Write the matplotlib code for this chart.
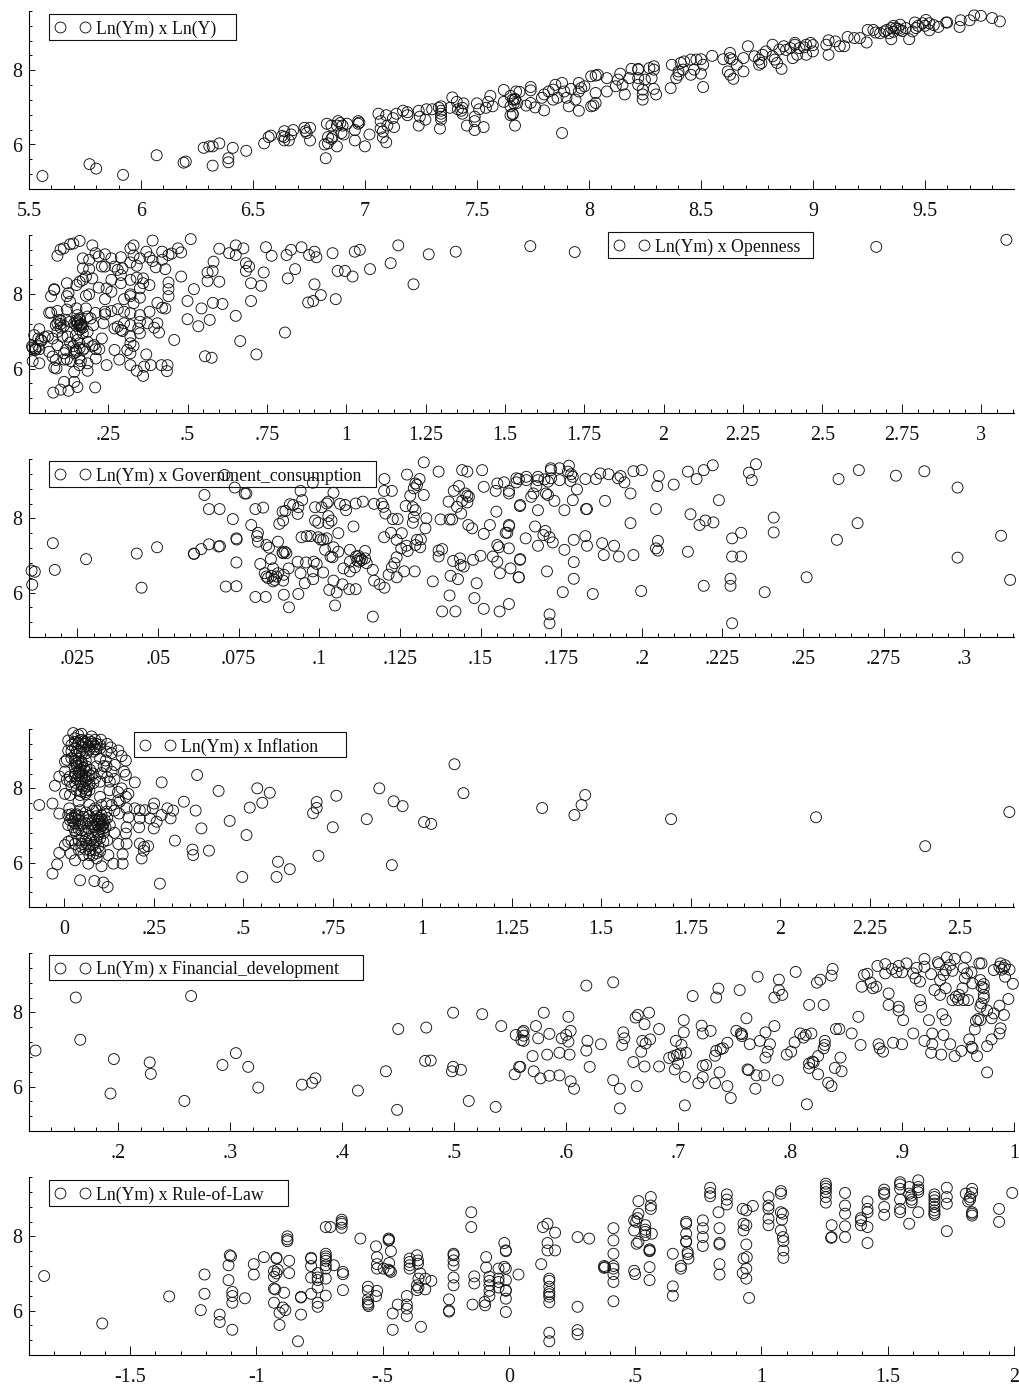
import matplotlib
matplotlib.use("Agg")
import matplotlib.pyplot as plt
from matplotlib.lines import Line2D
from matplotlib.patches import Rectangle
from matplotlib.ticker import MultipleLocator

plt.rcParams['font.family'] = ['Liberation Serif', 'DejaVu Serif']

W = 1019
H = 1385

# (x, Ln(Ym))
lny = [(5.56,5.15),(5.77,5.47),(5.80,5.35),(5.92,5.18),(6.07,5.71),(6.19,5.51),(6.20,5.54),(6.28,5.91),(6.305,5.95),(6.32,5.95),
 (6.35,6.03),(6.32,5.43),(6.39,5.63),(6.39,5.52),(6.41,5.91),(6.47,5.83),(6.55,6.03),(6.57,6.2),(6.58,6.24),(6.64,6.36),
 (6.63,6.23),(6.64,6.2),(6.64,6.11),(6.66,6.11),(6.67,6.27),(6.68,6.39),(6.73,6.45),(6.755,6.45),(6.735,6.36),(6.74,6.31),
 (6.755,6.11),(6.82,6.0),(6.835,6.03),(6.825,5.63),(6.83,6.56),(6.835,6.2),(6.85,6.15),(6.855,6.2),(6.85,6.51),(6.88,6.63),
 (6.875,6.51),(6.89,6.58),(6.9,6.51),(6.895,6.31),(6.905,6.27),(6.875,5.95),(6.92,6.56),(6.955,6.39),(6.955,6.11),(6.97,6.63),
 (6.975,6.59),(6.97,6.56),(7,5.95),(7.02,6.27),(7.06,6.83),(7.07,6.63),(7.095,6.79),(7.07,6.43),(7.08,6.35),(7.08,6.19),
 (7.095,6.06),(7.1,6.51),(7.13,6.47),(7.125,6.71),(7.14,6.83),(7.17,6.91),(7.19,6.87),(7.19,6.79),(7.24,6.91),(7.245,6.75),
 (7.24,6.51),(7.27,6.67),(7.275,6.95),(7.3,6.95),(7.33,6.99),(7.34,7.03),(7.34,6.91),(7.34,6.83),(7.34,6.75),(7.34,6.67),
 (7.335,6.43),(7.38,6.99),(7.39,7.27),(7.41,7.15),(7.415,6.95),(7.435,6.99),(7.44,7.11),(7.435,6.83),(7.43,6.91),(7.455,6.51),
 (7.49,6.75),(7.49,6.63),(7.49,6.39),(7.53,6.47),(7.5,7.11),(7.51,6.95),(7.54,6.99),(7.55,7.15),(7.56,7.31),(7.57,7.03),
 (7.62,7.47),(7.62,7.15),(7.65,7.31),(7.675,7.43),(7.67,7.23),(7.65,6.79),(7.66,6.83),(7.67,6.51),(7.665,7.11),(7.65,7.03),
 (7.67,7.21),(7.66,7.21),(7.68,7.12),(7.66,6.81),(7.69,7.42),(7.74,7.55),(7.74,7.46),(7.72,7.05),(7.74,7.12),(7.76,7.0),
 (7.8,6.92),(7.79,7.26),(7.8,7.35),(7.82,7.43),(7.84,7.48),(7.85,7.61),(7.88,7.66),(7.84,7.21),(7.86,7.26),(7.89,7.43),
 (7.9,7.26),(7.91,7.03),(7.92,7.5),(7.94,7.21),(7.955,7.66),(7.955,7.43),(7.965,7.52),(7.98,7.57),(7.955,6.91),(7.88,6.31),
 (8.01,7.03),(8.02,7.05),(8.03,7.12),(8.03,7.39),(8.01,7.84),(8.03,7.86),(8.04,7.88),(8.08,7.79),(8.08,7.43),(8.12,7.57),
 (8.14,7.91),(8.13,7.75),(8.15,7.61),(8.16,7.35),(8.18,7.79),(8.19,8.04),(8.22,8.02),(8.22,8.04),(8.22,7.79),(8.25,7.75),
 (8.22,7.61),(8.24,7.48),(8.24,7.35),(8.24,7.21),(8.27,8.06),(8.29,8.11),(8.29,8.02),(8.28,7.79),(8.29,7.5),(8.3,7.35),
 (8.365,7.52),(8.37,8.15),(8.39,7.79),(8.4,7.97),(8.4,7.88),(8.41,8.2),(8.425,8.24),(8.455,8.29),(8.48,8.29),(8.5,8.3),
 (8.51,7.55),(8.51,8.15),(8.5,7.91),(8.455,7.88),(8.42,8.02),(8.47,8.02),(8.55,8.39),(8.6,8.3),(8.63,8.47),(8.63,8.33),
 (8.64,8.29),(8.62,7.97),(8.63,7.88),(8.645,7.77),(8.66,8.15),(8.69,7.97),(8.69,8.33),(8.71,8.65),(8.74,8.38),(8.76,8.29),
 (8.77,8.2),(8.76,8.15),(8.775,8.42),(8.79,8.51),(8.82,8.69),(8.82,8.38),(8.83,8.29),(8.84,8.2),(8.86,8.04),(8.85,8.56),
 (8.87,8.65),(8.91,8.33),(8.92,8.69),(8.93,8.42),(8.97,8.42),(8.92,8.74),(8.97,8.69),(8.99,8.74),(9,8.51),(9.06,8.69),
 (9.07,8.81),(9.07,8.42),(9.1,8.78),(9.12,8.65),(9.14,8.65),(9.155,8.9),(9.185,8.87),(9.21,8.87),(9.245,9.09),(9.24,8.75),
 (9.27,9.09),(9.3,9.0),(9.33,9.09),(9.35,8.84),(9.35,9.14),(9.37,9.14),(9.39,9.09),(9.39,9.23),(9.415,9.14),(9.43,8.84),
 (9.445,9.05),(9.46,9.14),(9.455,9.29),(9.49,9.27),(9.505,9.36),(9.52,9.27),(9.52,9.08),(9.56,9.17),(9.595,9.29),(9.6,9.29),
 (9.655,9.17),(9.66,9.35),(9.7,9.35),(9.72,9.48),(9.75,9.47),(9.8,9.41),(9.835,9.32),(9.36,9.2),(9.38,9.12),(9.4,9.06),
 (9.32,9.05),(9.34,9.0),(9.28,9.02),(9.36,9.04),(8.9,8.6),(8.94,8.6),(8.88,8.55),(8.96,8.62),(9.0,8.68),(9.5,9.2),
 (9.54,9.22),(9.47,9.2)]

openness = [(.09,9.04),(.10,9.21),(.11,9.24),(.13,9.35),(.14,9.37),(.16,9.44),(.20,9.32),(.21,9.11),(.22,9.02),(.24,9.08),
 (.19,8.93),(.17,8.97),(.26,8.97),(.29,9.0),(.32,9.24),(.33,9.32),(.35,8.97),(.33,9.05),(.32,8.86),(.34,8.77),
 (.37,9.15),(.39,9.45),(.38,9.0),(.39,8.9),(.40,8.73),(.42,9.15),(.42,8.93),(.43,8.68),(.44,9.06),(.45,9.1),
 (.47,9.24),(.48,9.13),(.51,9.49),(.48,8.48),(.17,8.7),(.19,8.68),(.18,8.48),(.20,8.43),(.17,8.39),(.16,8.34),
 (.15,8.25),(.12,8.3),(.08,8.14),(.08,8.12),(.07,7.95),(.12,7.95),(.125,8.03),(.13,7.8),(.18,7.96),(.19,8.0),
 (.22,8.18),(.245,8.16),(.24,7.87),(.26,8.07),(.26,8.39),(.23,8.75),(.24,8.75),(.27,8.75),(.28,8.66),(.29,8.52),
 (.295,8.7),(.29,8.3),(.32,8.39),(.34,8.45),(.36,8.43),(.36,8.3),(.38,8.25),(.35,8.16),(.35,7.91),(.32,8.0),
 (.32,7.95),(.30,7.87),(.33,7.76),(.44,8.32),(.44,8.14),(.44,7.95),(.405,7.77),(.38,7.53),(.42,7.64),(.43,7.62),
 (.35,7.44),(.32,7.49),(.30,7.53),(.28,7.6),(.26,7.55),(.24,7.53),(.24,7.46),(.21,7.5),(.18,7.62),(.15,7.62),
 (.12,7.59),(.09,7.55),(.07,7.51),(.064,7.5),(.095,7.31),(.09,7.22),(.085,7.17),(.117,7.31),(.13,7.26),(.153,7.44),
 (.16,7.31),(.164,7.17),(.153,7.22),(.143,7.22),(.16,7.35),(.185,7.4),(.195,7.35),(.203,7.17),(.235,7.22),(.27,7.08),
 (.28,7.13),(.29,7.04),(.295,7.01),(.30,7.22),(.32,7.17),(.35,7.26),(.374,7.22),(.405,7.22),(.395,7.1),(.41,6.97),
 (.35,6.95),(.345,7.08),(.32,6.86),(.23,6.81),(.185,6.99),(.17,6.95),(.148,6.9),(.122,6.86),(.106,6.86),(.09,6.99),
 (.033,7.06),(.03,6.81),(.017,6.9),(.06,6.87),(.075,6.81),(.09,6.63),(.153,6.77),(.159,6.68),(.185,6.72),(.206,6.63),
 (.211,6.52),(.222,6.52),(.27,6.5),(.31,6.5),(.32,6.41),(.33,6.61),(.32,6.68),(.148,6.5),(.143,6.41),(.17,6.5),
 (.174,6.54),(.117,6.5),(.111,6.41),(.159,6.27),(.164,6.2),(.211,6.27),(.185,6.14),(.064,6.45),(.075,6.32),(.085,6.23),
 (.111,6.24),(.132,6.2),(.159,6.09),(.033,6.14),(.012,6.2),(.012,6.56),(.022,6.52),(.033,6.52),(.038,6.77),(.087,6.0),
 (.08,6.02),(.143,5.91),(.185,5.94),(.245,6.09),(.285,6.24),(.32,6.09),(.34,5.94),(.36,5.8),(.363,6.05),(.37,6.38),
 (.384,6.09),(.418,6.09),(.437,6.09),(.435,5.93),(.111,5.64),(.143,5.64),(.153,5.5),(.125,5.4),(.10,5.43),(.077,5.35),
 (.209,5.49),(.458,6.77),(.15,7.15),(.155,7.25),(.165,7.2),(.17,7.1),(.16,7.05),(.16,7.15),(.165,7.12),(.15,7.3),
 (.1,7.1),(.1,7.2),(.11,7.15),(.1,7.3),(.02,6.55),(.03,6.6),(.02,6.5),(.01,6.6),(.04,6.75),(.05,6.85),
 (.13,6.7),(.14,6.6),(.15,6.45),(.16,6.55),(.2,6.6),(.12,6.25),(.52,8.14),(.544,7.62),(.50,7.82),(.50,7.33),
 (.534,7.14),(.57,7.31),(.58,7.77),(.61,7.74),(.652,7.42),(.666,6.74),(.717,6.38),(.555,6.33),(.576,6.29),(.807,6.97),
 (.70,7.82),(.70,8.3),(.732,8.23),(.60,8.34),(.563,8.36),(.563,8.59),(.579,8.63),(.582,8.88),(.60,9.23),(.631,9.11),
 (.652,9.32),(.652,9.06),(.676,9.24),(.684,8.84),(.694,8.75),(.684,8.63),(.74,8.59),(.747,9.27),(.765,9.04),(.812,9.06),
 (.826,9.2),(.859,9.27),(.883,9.06),(.90,9.15),(.906,9.0),(.839,8.68),(.816,8.43),(.90,8.27),(.92,7.98),(.88,7.78),
 (.896,7.82),(.957,9.11),(.973,8.63),(.996,8.63),(1.02,8.48),(.967,7.87),(1.027,9.15),(1.043,9.2),(1.075,8.68),(1.14,8.84),
 (1.164,9.32),(1.212,8.27),(1.26,9.08),(1.345,9.15),(1.58,9.3),(1.72,9.14),(2.67,9.28),(3.08,9.47)]

government = [(.0108,6.59),(.0118,6.56),(.011,6.21),(.0174,7.33),(.018,6.61),(.0277,6.9),(.0434,7.05),(.0449,6.13),(.0497,7.22),(.0611,7.05),
 (.0612,7.04),(.0634,7.17),(.0658,7.3),(.0688,7.24),(.0692,7.25),(.0644,8.63),(.0658,8.25),(.0691,8.25),(.0706,9.17),(.071,6.16),
 (.0732,7.98),(.0738,8.83),(.0743,7.46),(.0744,7.43),(.0743,6.81),(.0743,6.17),(.0769,8.67),(.0774,8.67),(.0789,7.82),(.0802,5.88),
 (.0802,8.25),(.081,7.61),(.0807,7.52),(.081,7.37),(.0826,8.29),(.0836,7.28),(.0844,7.21),(.0817,6.77),(.0834,5.88),(.0831,6.52),
 (.0836,6.43),(.0841,6.39),(.0852,6.45),(.0857,6.3),(.0867,6.43),(.0862,6.34),(.0872,6.52),(.0857,6.65),(.085,6.9),(.0872,7.37),
 (.0876,7.85),(.0888,7.94),(.0886,8.18),(.0895,8.2),(.0888,7.06),(.0893,7.1),(.0898,7.06),(.0886,7.08),(.089,6.48),(.0888,6.32),
 (.089,5.94),(.0906,5.6),(.0905,6.65),(.0909,8.38),(.0919,8.36),(.0935,8.3),(.0933,8.12),(.0933,6.83),(.0935,5.96),(.0942,8.74),
 (.0947,8.49),(.0945,7.49),(.0961,7.52),(.0973,7.52),(.0942,6.52),(.0955,6.25),(.0959,6.81),(.0983,6.83),(.0992,6.77),(.098,6.57),
 (.0981,6.36),(.098,8.96),(.0987,8.3),(.0987,7.94),(.0997,7.88),(.1007,8.3),(.0997,7.49),(.1004,7.43),(.1012,7.42),(.1023,7.46),
 (.1018,7.15),(.1012,6.54),(.1031,6.07),(.1023,8.4),(.1028,8.45),(.1028,7.87),(.1028,8.06),(.1038,7.94),(.1044,8.69),(.1044,7.22),
 (.1035,6.97),(.1041,6.95),(.1059,7.6),(.1059,7.1),(.1044,6.32),(.1049,5.65),(.1054,6.0),(.1064,8.39),(.108,8.36),(.1083,8.22),
 (.1072,6.22),(.1075,6.65),(.1095,7.15),(.1095,6.57),(.1095,6.83),(.1093,6.09),(.1113,6.09),(.1106,7.78),(.1113,8.4),(.1135,8.45),
 (.1114,6.97),(.1121,6.99),(.1127,6.92),(.1118,6.86),(.1132,6.88),(.1124,6.83),(.1142,6.92),(.1142,7.12),(.1147,6.79),(.1111,6.68),
 (.1166,5.35),(.1166,6.61),(.117,6.32),(.117,8.39),(.1187,6.22),(.1202,6.13),(.1194,8.4),(.1199,8.31),(.1202,9.06),(.1201,8.74),
 (.1225,8.74),(.1205,8.13),(.1201,7.49),(.1222,7.61),(.1228,7.98),(.1243,7.98),(.1215,6.48),(.1225,6.68),(.1233,6.79),(.124,6.95),
 (.124,7.42),(.124,6.41),(.1256,7.6),(.1254,7.19),(.127,7.26),(.1274,7.12),(.1263,6.57),(.1272,9.18),(.1282,8.61),(.1268,8.33),
 (.1293,8.81),(.1303,8.9),(.1298,8.94),(.1311,9.06),(.129,8.3),(.1298,8.22),(.1293,8.04),(.129,7.88),(.1296,6.57),(.1298,7.28),
 (.1313,7.22),(.1303,7.42),(.1315,7.43),(.1324,9.51),(.1324,8.63),(.1332,8.0),(.1329,7.73),(.1352,6.3),(.137,9.26),(.1376,7.97),
 (.137,6.97),(.137,7.13),(.1381,7.17),(.1381,5.49),(.1401,8.45),(.1404,7.97),(.1412,7.97),(.1404,5.92),(.1407,6.45),(.1415,6.85),
 (.1422,5.49),(.143,6.36),(.1417,8.74),(.1433,8.87),(.1443,9.3),(.1459,9.26),(.1427,8.31),(.144,8.13),(.1443,8.47),(.1453,8.67),
 (.1459,8.61),(.1464,8.58),(.1459,8.43),(.1436,6.92),(.1438,6.74),(.1448,6.7),(.1462,7.82),(.1474,7.73),(.1477,6.88),(.1488,6.25),
 (.1481,5.85),(.15,6.99),(.1505,9.3),(.151,8.85),(.151,7.58),(.151,5.56),(.1529,7.82),(.1538,6.97),(.1549,8.18),(.1547,8.74),
 (.1552,8.94),(.1573,8.97),(.1552,6.83),(.1552,7.28),(.1557,7.22),(.156,6.52),(.1559,5.49),(.1588,8.74),(.1588,8.67),(.1588,7.19),
 (.1593,6.65),(.1588,5.69),(.1578,7.61),(.1588,7.82),(.1583,7.61),(.1589,7.79),(.1619,9.06),(.1622,8.33),(.1622,6.88),(.1619,6.41),
 (.1611,9.08),(.1611,8.97),(.1642,9.12),(.1642,9.03),(.1678,9.12),(.1678,9.03),(.1698,9.05),(.1718,9.3),(.1718,9.35),(.1709,8.99),
 (.1719,9.08),(.1745,9.35),(.1745,9.03),(.1774,9.42),(.1771,9.26),(.1781,9.19),(.1786,9.12),(.1779,9.01),(.1673,8.87),(.1623,8.36),
 (.1657,8.58),(.1664,8.67),(.1678,8.22),(.1703,8.67),(.1709,8.63),(.1729,8.47),(.176,8.22),(.1786,8.49),(.1799,8.78),(.1825,9.06),
 (.1827,8.25),(.183,8.25),(.1858,9.06),(.1871,9.21),(.1897,9.19),(.1886,8.47),(.1926,9.08),(.1934,9.14),(.1946,8.97),(.1965,8.67),
 (.1974,9.27),(.2,9.3),(.2053,9.14),(.2048,8.87),(.2099,8.91),(.2044,8.25),(.2143,9.26),(.2192,9.3),(.217,9.06),(.222,9.43),
 (.2239,8.49),(.2151,8.11),(.2179,7.82),(.2197,7.94),(.2222,7.89),(.2332,9.23),(.2341,9.03),(.2354,9.46),(.2409,8.02),(.2409,7.62),
 (.261,9.06),(.2673,9.3),(.2788,9.15),(.2876,9.27),(.2979,8.83),(.2669,7.87),(.2605,7.42),(.3114,7.53),(.2979,6.94),(.3142,6.34),
 (.2511,6.41),(.2381,6.01),(.228,7.46),(.2308,7.61),(.228,6.97),(.2308,6.97),(.2275,6.37),(.2275,6.18),(.228,5.17),(.2192,6.18),
 (.2143,7.1),(.205,7.39),(.2044,7.19),(.205,7.13),(.1974,7.01),(.1998,6.04),(.1965,7.87),(.1825,7.52),(.183,7.26),(.1877,7.33),
 (.1882,7.01),(.1914,7.26),(.1929,6.97),(.1789,7.42),(.176,7.15),(.1789,6.82),(.1789,6.37),(.1755,6.01),(.1848,5.96),(.1724,7.35),
 (.1714,7.49),(.1701,7.66),(.1695,7.55),(.1669,7.78),(.1678,7.26),(.164,7.46),(.1706,6.57),(.1623,6.9),(.1618,6.41),(.1714,5.41),
 (.1714,5.17)]

inflation = [(-.07,7.55),(-.033,7.59),(-.026,8.07),(-.014,8.32),(-.014,7.32),(.002,8.45),(.002,8.72),(.011,9.02),(.011,9.29),(.025,9.49),
 (.039,9.44),(.048,9.47),(.03,9.35),(.02,9.17),(.039,9.22),(.053,9.26),(.067,9.31),(.076,9.4),(.086,9.31),(.102,9.31),
 (.10,9.17),(.086,9.13),(.067,9.13),(.048,9.13),(.03,9.08),(.044,8.99),(.062,8.95),(.081,8.99),(.10,9.08),(.118,8.99),
 (.132,8.95),(.151,9.02),(.16,8.87),(.172,8.75),(.116,8.75),(.141,8.63),(.118,8.59),(.167,8.45),(.172,8.36),(.197,8.16),
 (.132,8.45),(.127,8.18),(.126,7.95),(.16,8.0),(.179,7.85),(.172,7.77),(.155,7.64),(.151,7.68),(.007,8.77),(.02,8.81),
 (.034,8.68),(.048,8.72),(.03,8.54),(.044,8.5),(.062,8.59),(.016,8.32),(.03,8.32),(.048,8.32),(.067,8.27),(.086,8.27),
 (.10,8.18),(.081,8.14),(.007,8.23),(.016,8.18),(.002,7.85),(.016,7.82),(.034,7.95),(.048,7.91),(.062,7.95),(.044,7.82),
 (.10,7.77),(.072,8.5),(.09,8.59),(.104,8.41),(.014,7.46),(.011,7.28),(.016,7.14),(.011,7.01),(.03,7.28),(.044,7.41),
 (.053,7.23),(.03,7.05),(.044,7.01),(.067,7.14),(.086,7.46),(.104,7.55),(.118,7.59),(.132,7.55),(.118,7.37),(.104,7.28),
 (.086,7.14),(.10,7.1),(.113,7.14),(.127,7.01),(.109,6.92),(.095,6.83),(.081,6.96),(.067,6.92),(.048,6.87),(.034,6.78),
 (.02,6.6),(.011,6.56),(.002,6.47),(.018,6.24),(.03,6.06),(.048,6.42),(.062,6.51),(.081,6.47),(.10,6.65),(.109,6.56),
 (.095,6.42),(.086,6.33),(.072,6.33),(.053,6.2),(.067,5.97),(.044,5.52),(.084,5.5),(.109,5.46),(.121,5.34),(-.014,6.26),
 (-.02,5.95),(-.033,5.7),(.104,5.9),(.09,6.11),(.123,6.2),(.137,5.97),(.163,5.97),(.163,6.22),(.151,6.5),(.174,6.51),
 (.172,6.78),(.174,6.95),(.179,7.22),(.174,7.46),(.153,7.32),(.14,6.8),(.197,7.46),(.211,7.41),(.225,7.41),(.211,7.19),
 (.209,6.95),(.239,7.19),(.251,7.59),(.247,7.46),(.258,7.1),(.25,6.92),(.272,7.28),(.288,7.46),(.304,7.4),(.297,7.19),
 (.334,7.64),(.367,7.4),(.383,6.92),(.462,7.12),(.518,7.48),(.553,7.61),(.574,7.88),(.539,8.0),(.431,7.93),(.371,8.36),
 (.272,8.16),(.509,6.74),(.309,6.59),(.358,6.35),(.36,6.2),(.404,6.32),(.211,6.51),(.223,6.42),(.234,6.44),(.222,6.32),
 (.216,6.11),(.267,5.43),(.497,5.61),(.593,5.61),(.597,6.02),(.63,5.82),(.695,7.33),(.705,7.63),(.705,7.47),(.76,7.8),
 (.75,6.95),(.71,6.18),(.845,7.17),(.88,8.0),(.92,7.65),(.945,7.52),(.915,5.93),(1.005,7.09),(1.025,7.04),(1.09,8.65),
 (1.115,7.87),(1.335,7.47),(1.425,7.28),(1.445,7.55),(1.455,7.82),(1.695,7.17),(2.1,7.22),(2.405,6.44),(2.64,7.36),(.02,9.0),
 (.05,9.3),(.06,9.2),(.08,9.2),(.09,9.05),(.03,8.9),(.04,8.8),(.05,8.65),(.06,8.75),(.04,8.45),(.05,8.4),
 (.06,8.2),(.07,8.1),(.03,8.15),(.02,8.05),(.05,8.05),(.06,7.85),(.04,7.65),(.07,7.55),(.03,7.2),(.04,7.15),
 (.02,7.3),(.09,7.25),(.1,7.2),(.11,7.05),(.095,7.0),(.105,6.98),(.12,7.2),(.07,7.25),(.06,6.85),(.05,6.7),
 (.04,6.6),(.07,6.65),(.03,6.5),(.06,6.35),(.08,6.2),(.1,6.3),(.11,6.8),(.08,6.75),(.09,6.6),(.12,6.6),
 (.14,7.4),(.15,7.9),(.14,8.25),(.12,8.3),(.11,8.6),(.1,8.8),(.13,9.1),(.12,9.2),(.03,9.25),(.045,9.3),
 (.06,9.25),(.075,9.25),(.09,9.2),(.055,9.1),(.07,9.05),(.035,9.0),(.05,8.95),(.085,9.05),(.03,8.75),(.04,8.7),
 (.045,8.6),(.055,8.55),(.035,8.6),(.06,8.45),(.03,8.4),(.04,8.35),(.05,8.25),(.06,8.3),(.07,8.35),(.045,8.15),
 (.055,8.0),(.06,7.9),(.07,7.95),(.065,8.05),(.035,8.25),(.08,8.4),(.02,7.2),(.025,7.1),(.035,7.3),(.04,7.25),
 (.025,6.95),(.04,6.9),(.03,6.85),(.05,7.05),(.095,7.15),(.1,7.05),(.105,7.15),(.09,7.05),(.085,6.95),(.1,6.9),
 (.105,7.0),(.115,6.95),(.095,6.75),(.075,6.6),(.06,6.6),(.07,6.45),(.085,6.55),(.05,6.5),(.04,6.35),(.09,6.25),
 (.07,6.2),(.08,7.4),(.06,7.35),(.09,7.4),(.075,7.05),(.06,7.05)]

financial = [(.126,6.97),(.162,8.4),(.166,7.26),(.196,6.74),(.193,5.81),(.228,6.65),(.229,6.34),(.265,8.44),(.259,5.61),(.293,6.58),
 (.305,6.9),(.316,6.53),(.325,5.97),(.364,6.05),(.373,6.1),(.376,6.22),(.414,5.89),(.439,6.41),(.45,7.55),(.449,5.37),
 (.475,7.59),(.474,6.69),(.479,6.7),(.499,7.99),(.499,6.53),(.498,6.41),(.506,6.45),(.513,5.61),(.525,7.95),(.537,5.45),
 (.542,7.63),(.555,7.39),(.554,6.33),(.559,6.53),(.56,7.25),(.561,7.46),(.562,7.5),(.562,7.37),(.562,7.23),(.558,6.53),
 (.57,6.82),(.571,6.41),(.573,7.63),(.575,7.3),(.577,6.22),(.58,7.99),(.583,6.86),(.585,6.29),(.585,7.42),(.594,6.91),
 (.594,6.3),(.596,7.3),(.6,7.39),(.602,7.88),(.602,7.21),(.604,7.5),(.603,6.86),(.604,6.14),(.607,5.94),(.618,8.72),
 (.619,7.23),(.618,6.97),(.621,6.53),(.631,7.14),(.642,8.81),(.642,6.17),(.648,5.94),(.648,5.41),(.651,7.46),(.652,7.3),
 (.65,7.12),(.66,6.66),(.662,7.86),(.664,7.93),(.663,6.01),(.67,7.68),(.674,7.99),(.668,7.23),(.671,7.16),(.675,7.27),
 (.667,6.94),(.67,6.54),(.683,7.55),(.683,6.54),(.698,7.23),(.703,7.12),(.692,6.77),(.696,6.82),(.699,6.85),(.702,6.89),
 (.707,6.91),(.7,6.62),(.697,6.46),(.706,6.26),(.706,5.49),(.705,7.79),(.705,7.46),(.713,8.44),(.721,7.64),(.722,7.43),
 (.729,7.5),(.722,6.56),(.725,6.58),(.722,6.25),(.718,6.09),(.733,6.83),(.734,6.96),(.738,7.01),(.74,7.03),(.744,7.18),
 (.737,6.38),(.733,6.09),(.744,6.01),(.747,5.69),(.736,8.64),(.734,8.4),(.755,8.6),(.752,7.5),(.756,7.43),(.757,7.41),
 (.757,7.36),(.761,7.84),(.764,7.14),(.762,6.46),(.763,6.44),(.77,6.3),(.769,5.94),(.771,8.96),(.773,7.23),(.778,7.46),
 (.777,6.3),(.778,6.78),(.78,6.94),(.782,7.14),(.786,7.63),(.789,6.17),(.79,8.88),(.79,8.6),(.786,8.4),(.793,8.47),
 (.797,6.86),(.801,6.94),(.805,9.09),(.804,7.19),(.809,7.43),(.812,7.32),(.814,7.39),(.817,8.2),(.819,7.43),(.815,5.52),
 (.824,8.8),(.827,8.88),(.817,6.62),(.817,6.5),(.82,6.67),(.821,6.65),(.825,6.82),(.825,6.33),(.83,8.2),(.83,7.03),
 (.831,7.23),(.831,7.12),(.834,6.1),(.837,6.01),(.837,8.99),(.838,9.17),(.84,6.5),(.841,7.55),(.844,7.55),(.845,6.78),
 (.846,6.41),(.855,7.43),(.861,7.88),(.863,7.12),(.864,8.69),(.866,9.01),(.869,9.04),(.872,8.8),(.874,8.65),(.877,8.69),
 (.879,7.14),(.88,7.03),(.883,6.94),(.878,9.25),(.885,9.3),(.885,9.05),(.888,8.51),(.888,8.2),(.892,7.18),(.891,9.17),
 (.895,9.08),(.897,9.25),(.897,8.15),(.897,8.05),(.901,7.79),(.9,9.08),(.9,7.14),(.904,9.32),(.91,9.05),(.91,7.43),
 (.913,9.2),(.912,8.92),(.916,8.83),(.916,8.33),(.917,8.15),(.92,9.44),(.92,9.23),(.92,7.23),(.924,7.79),(.926,6.91),
 (.927,7.43),(.927,7.14),(.926,9.03),(.929,8.6),(.932,9.35),(.933,9.3),(.934,8.87),(.935,6.86),(.937,7.39),(.936,7.95),
 (.939,7.79),(.934,8.47),(.939,8.65),(.937,9.01),(.939,9.14),(.94,9.48),(.943,9.28),(.945,9.12),(.947,9.44),(.943,7.14),
 (.947,6.82),(.945,8.33),(.948,8.42),(.95,8.33),(.951,8.47),(.954,8.65),(.955,8.33),(.959,8.33),(.953,6.96),(.956,8.92),
 (.957,9.48),(.955,9.19),(.958,9.05),(.962,9.08),(.963,8.78),(.96,7.27),(.962,7.07),(.963,7.03),(.967,6.82),(.965,7.54),
 (.966,7.77),(.968,7.82),(.97,7.79),(.969,9.32),(.971,9.32),(.97,8.87),(.971,8.69),(.973,8.76),(.973,8.65),(.97,8.15),
 (.971,8.24),(.973,8.38),(.973,8.47),(.976,7.09),(.976,6.38),(.976,8.05),(.98,7.27),(.98,7.84),(.982,7.97),(.987,8.18),
 (.987,7.43),(.988,7.57),(.991,7.93),(.995,8.36),(.999,8.77),(.982,9.14),(.987,9.23),(.988,9.32),(.991,9.2),(.989,9.15),
 (.992,9.27),(.996,9.15),(.992,8.96)]

rule_of_law = [(-1.84,6.93),(-1.61,5.65),(-1.345,6.38),(-1.22,6.01),(-1.205,6.97),(-1.205,6.45),(-1.145,5.89),(-1.145,5.69),(-1.11,7.22),(-1.105,7.49),
 (-1.10,7.46),(-1.11,6.82),(-1.095,6.5),(-1.095,6.39),(-1.095,6.21),(-1.095,5.48),(-1.045,6.33),(-1.01,7.25),(-1.01,6.97),(-.97,7.44),
 (-.93,7.06),(-.93,6.91),(-.93,6.59),(-.925,6.57),(-.93,6.21),(-.92,7.4),(-.92,7.42),(-.915,7.1),(-.92,7.0),(-.908,5.94),
 (-.908,5.61),(-.89,6.48),(-.895,6.08),(-.885,6.01),(-.877,8.0),(-.877,7.92),(-.877,7.87),(-.87,7.34),(-.87,7.01),(-.835,5.17),
 (-.823,6.35),(-.823,6.37),(-.823,5.89),(-.783,7.42),(-.783,7.4),(-.783,7.2),(-.783,6.89),(-.783,6.45),(-.757,7.01),(-.757,6.89),
 (-.757,6.82),(-.757,6.62),(-.757,6.21),(-.757,6.1),(-.725,8.25),(-.707,8.25),(-.725,7.53),(-.725,7.46),(-.725,7.4),(-.725,7.34),
 (-.725,7.22),(-.725,7.13),(-.725,6.86),(-.725,6.4),(-.693,7.22),(-.662,8.45),(-.662,8.39),(-.662,8.34),(-.662,8.23),(-.657,7.04),
 (-.657,6.98),(-.657,6.55),(-.588,7.94),(-.558,6.64),(-.558,6.53),(-.558,6.3),(-.558,6.21),(-.558,6.16),(-.556,6.12),(-.526,7.73),
 (-.522,7.44),(-.522,7.25),(-.522,7.13),(-.522,6.53),(-.526,6.39),(-.476,7.94),(-.474,7.91),(-.476,7.89),(-.467,7.6),(-.474,7.28),
 (-.476,7.1),(-.472,7.07),(-.467,7.04),(-.496,7.13),(-.46,5.92),(-.46,5.48),(-.44,6.16),(-.404,6.39),(-.404,6.16),(-.404,6.05),
 (-.404,5.85),(-.393,7.4),(-.393,7.31),(-.393,7.22),(-.393,7.13),(-.364,7.49),(-.36,7.35),(-.36,7.26),(-.348,5.56),(-.351,7.0),
 (-.358,6.86),(-.364,6.68),(-.358,6.62),(-.364,6.55),(-.331,6.57),(-.331,6.86),(-.307,6.8),(-.219,7.53),(-.219,7.49),(-.219,7.35),
 (-.219,7.22),(-.219,6.89),(-.219,6.68),(-.237,6.3),(-.237,6.0),(-.237,5.97),(-.149,8.65),(-.149,8.25),(-.137,6.92),(-.137,6.73),
 (-.144,6.16),(-.09,7.44),(-.09,7.16),(-.096,6.23),(-.094,6.14),(-.077,6.91),(-.077,6.8),(-.077,6.68),(-.077,6.53),(-.077,6.39),
 (-.041,7.13),(-.041,6.86),(-.041,6.77),(-.041,6.62),(-.018,7.82),(-.012,7.62),(-.012,7.6),(-.018,7.18),(-.012,7.13),(-.012,6.82),
 (-.012,6.55),(-.012,6.53),(-.012,6.32),(-.012,5.96),(.038,6.97),(.128,7.25),(.135,8.25),(.153,8.34),(.183,8.1),(.153,7.82),
 (.153,7.62),(.183,7.62),(.16,6.86),(.16,6.8),(.16,6.64),(.16,6.5),(.16,6.44),(.16,6.37),(.16,6.22),(.16,5.4),
 (.16,5.17),(.272,7.98),(.318,7.94),(.272,6.1),(.272,5.47),(.272,5.36),(.377,7.2),(.377,7.15),(.381,7.17),(.414,8.22),
 (.414,7.89),(.414,7.53),(.414,7.2),(.414,7.13),(.414,6.98),(.414,6.77),(.414,6.25),(.496,7.07),(.5,6.98),(.513,8.95),
 (.513,8.61),(.509,8.49),(.496,8.43),(.496,8.16),(.504,8.39),(.513,7.85),(.506,7.8),(.54,8.3),(.54,8.18),(.54,8.12),
 (.54,8.03),(.562,9.06),(.562,8.83),(.562,8.74),(.566,8.07),(.557,7.65),(.557,7.62),(.557,7.6),(.557,7.17),(.557,6.82),
 (.649,7.53),(.649,6.65),(.649,6.4),(.681,7.2),(.681,7.13),(.702,8.39),(.702,8.34),(.702,8.07),(.702,7.87),(.702,7.85),
 (.708,7.58),(.708,7.52),(.711,7.4),(.768,8.43),(.768,8.22),(.768,7.98),(.768,7.74),(.797,9.31),(.797,9.17),(.797,9.08),
 (.83,8.65),(.834,8.22),(.834,7.82),(.834,7.78),(.834,7.25),(.834,6.97),(.863,9.13),(.863,8.99),(.863,8.86),(.926,8.74),
 (.929,8.34),(.929,8.16),(.94,8.7),(.94,8.3),(.966,8.82),(.94,7.78),(.929,7.4),(.942,7.44),(.94,7.13),(.926,7.01),
 (.94,6.86),(.951,6.34),(1.028,9.06),(1.028,8.83),(1.028,8.74),(1.028,8.48),(1.028,8.3),(1.077,9.22),(1.077,9.15),(1.077,8.65),
 (1.085,8.61),(1.081,8.45),(1.077,8.16),(1.085,7.98),(1.087,7.87),(1.087,7.62),(1.087,7.42),(1.255,9.42),(1.255,9.35),(1.255,9.28),
 (1.255,9.19),(1.255,9.06),(1.255,8.91),(1.278,8.3),(1.278,7.98),(1.276,7.96),(1.331,9.17),(1.331,8.83),(1.331,8.61),(1.331,8.27),
 (1.331,7.98),(1.394,8.49),(1.394,8.43),(1.394,8.3),(1.42,8.94),(1.42,8.74),(1.42,8.65),(1.42,8.25),(1.42,7.82),(1.486,9.26),
 (1.486,9.17),(1.486,9.13),(1.486,8.79),(1.486,8.58),(1.549,9.46),(1.549,9.4),(1.549,9.28),(1.549,8.99),(1.549,8.74),(1.549,8.65),
 (1.585,9.33),(1.585,9.15),(1.585,8.34),(1.593,9.1),(1.595,8.99),(1.595,8.92),(1.621,9.51),(1.621,9.33),(1.621,9.26),(1.621,9.19),
 (1.621,8.65),(1.685,9.13),(1.685,9.06),(1.685,8.97),(1.685,8.88),(1.685,8.79),(1.685,8.7),(1.685,8.63),(1.685,8.58),(1.734,9.31),
 (1.734,9.06),(1.734,8.88),(1.734,8.14),(1.809,9.15),(1.826,9.06),(1.826,8.99),(1.819,8.94),(1.834,9.28),(1.834,9.17),(1.834,8.65),
 (1.834,8.61),(1.834,8.56),(1.941,8.74),(1.941,8.39),(1.993,9.17)]

lny_ticks = [5.5, 6, 6.5, 7, 7.5, 8, 8.5, 9, 9.5]
lny_labels = ['5.5', '6', '6.5', '7', '7.5', '8', '8.5', '9', '9.5']
open_ticks = [.25, .5, .75, 1, 1.25, 1.5, 1.75, 2, 2.25, 2.5, 2.75, 3]
open_labels = ['.25', '.5', '.75', '1', '1.25', '1.5', '1.75', '2', '2.25', '2.5', '2.75', '3']
gov_ticks = [.025, .05, .075, .1, .125, .15, .175, .2, .225, .25, .275, .3]
gov_labels = ['.025', '.05', '.075', '.1', '.125', '.15', '.175', '.2', '.225', '.25', '.275', '.3']
inf_ticks = [0, .25, .5, .75, 1, 1.25, 1.5, 1.75, 2, 2.25, 2.5]
inf_labels = ['0', '.25', '.5', '.75', '1', '1.25', '1.5', '1.75', '2', '2.25', '2.5']
fin_ticks = [.2, .3, .4, .5, .6, .7, .8, .9, 1]
fin_labels = ['.2', '.3', '.4', '.5', '.6', '.7', '.8', '.9', '1']
law_ticks = [-1.5, -1, -.5, 0, .5, 1, 1.5, 2]
law_labels = ['-1.5', '-1', '-.5', '0', '.5', '1', '1.5', '2']

INK = '#111111'


def add_key(fig, box, text):
    # legend box is given in pixels from the top left of the picture
    x0, y0, x1, y1 = box
    fig.add_artist(Rectangle((x0 / W, 1 - y1 / H), (x1 - x0) / W, (y1 - y0) / H, fill=False,
                             edgecolor=INK, linewidth=0.8, transform=fig.transFigure))
    ym = (y0 + y1) / 2 / H
    for px in (x0 + 11, x0 + 36):
        fig.add_artist(Line2D([px / W], [1 - ym], marker='o', markersize=7.8, markerfacecolor='none',
                              markeredgecolor=INK, markeredgewidth=0.65, linestyle='none',
                              transform=fig.transFigure))
    fig.text((x0 + 47) / W, 1 - ym, text, fontsize=12.8, va='center_baseline', ha='left', color=INK)


def panel(fig, top, bottom, pts, xlim, ticks, labels, minor, box, text):
    ax = fig.add_axes([29 / W, 1 - bottom / H, 985 / W, (bottom - top) / H])
    ax.patch.set_alpha(0)
    ax.scatter([p[0] for p in pts], [p[1] for p in pts], s=62, facecolors='none',
               edgecolors=INK, linewidths=0.65, clip_on=False, zorder=3)
    ax.set_xlim(*xlim)
    ax.set_ylim(4.8, 9.6)
    ax.set_xticks(ticks, labels=labels)
    ax.xaxis.set_minor_locator(MultipleLocator(minor))
    ax.set_yticks([6, 8], labels=['6', '8'])
    ax.yaxis.set_minor_locator(MultipleLocator(0.4))
    ax.spines['top'].set_visible(False)
    ax.spines['right'].set_visible(False)
    ax.spines['left'].set_linewidth(0.8)
    ax.spines['bottom'].set_linewidth(0.8)
    ax.tick_params(axis='x', which='major', direction='in', length=6.2, width=0.7, pad=9, labelsize=14.4, colors=INK)
    ax.tick_params(axis='x', which='minor', direction='in', length=3, width=0.7)
    ax.tick_params(axis='y', which='major', direction='in', length=4, width=0.7, pad=5, labelsize=14.4, colors=INK)
    ax.tick_params(axis='y', which='minor', direction='in', length=2.2, width=0.7)
    add_key(fig, box, text)
    return ax


def main():
    fig = plt.figure(figsize=(W / 100, H / 100), dpi=100)
    panel(fig, 11, 189, lny, (5.5, 9.898), lny_ticks, lny_labels, 0.1, (49, 14, 236, 40), 'Ln(Ym) x Ln(Y)')
    panel(fig, 235, 413, openness, (0.0005, 3.104), open_ticks, open_labels, 0.05, (608, 232, 813, 258), 'Ln(Ym) x Openness')
    panel(fig, 459, 637, government, (.01, .3154), gov_ticks, gov_labels, 0.005, (49, 461, 376, 487), 'Ln(Ym) x Government_consumption')
    panel(fig, 729, 907, inflation, (-.0986, 2.653), inf_ticks, inf_labels, 0.05, (134, 732, 346, 757), 'Ln(Ym) x Inflation')
    panel(fig, 953, 1131, financial, (.1202, 1), fin_ticks, fin_labels, 0.02, (49, 955, 363, 980), 'Ln(Ym) x Financial_development')
    panel(fig, 1177, 1355, rule_of_law, (-1.9, 2), law_ticks, law_labels, 0.1, (49, 1180, 288, 1206), 'Ln(Ym) x Rule-of-Law')
    fig.savefig('out.png', dpi=100, facecolor='white')


if __name__ == "__main__":
    main()
